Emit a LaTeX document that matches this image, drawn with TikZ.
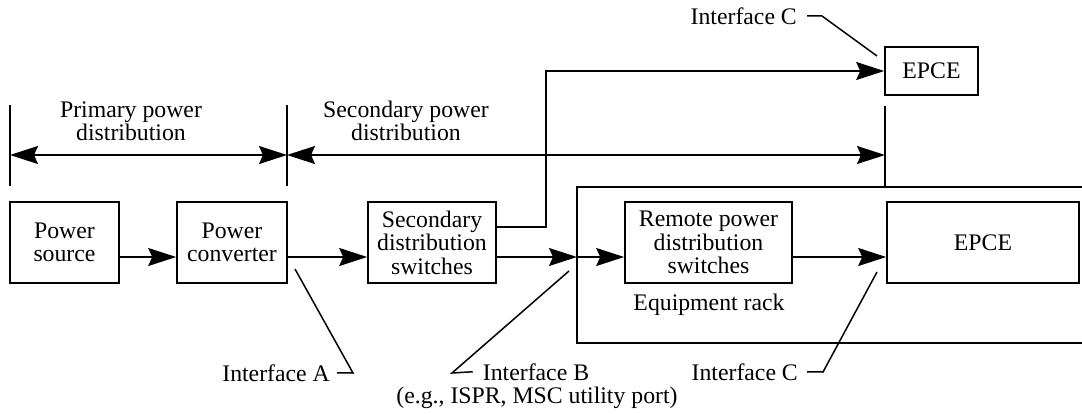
\documentclass[tikz,border=0pt]{standalone}
\usepackage{fontspec}
\setmainfont{Liberation Serif}
\usetikzlibrary{arrows.meta}
\newcommand\diafont{\fontsize{23.75pt}{23.5pt}\selectfont}
\begin{document}
\begin{tikzpicture}[x=1pt,y=-1pt,
  lw/.style={line width=1.6pt},
  box/.style={draw,lw,align=center,inner sep=0pt,font=\diafont},
  lbl/.style={align=center,inner sep=0pt,font=\diafont},
  arr/.style={lw,-{Stealth[length=28pt,width=18pt,inset=4pt]}},
  darr/.style={lw,{Stealth[length=28pt,width=18pt,inset=4pt]}-{Stealth[length=28pt,width=18pt,inset=4pt]}},
  lead/.style={line width=1.5pt}]
\useasboundingbox (0,0) rectangle (1082,413);

% boxes
\node[box,minimum width=109pt,minimum height=81pt] (ps) at (64.5,242.5) {Power\\source};
\node[box,minimum width=110pt,minimum height=81pt] (pc) at (232,242.5) {Power\\converter};
\node[box,minimum width=128pt,minimum height=81pt] (sds) at (432,242.5) {Secondary\\distribution\\switches};
\node[box,minimum width=167pt,minimum height=81pt] (rpds) at (708.5,242.5) {Remote power\\distribution\\switches};
\node[box,minimum width=192pt,minimum height=81pt] (epce) at (983,242.5) {EPCE};
\node[box,minimum width=93pt,minimum height=48pt] (epcet) at (931.5,71) {EPCE};

% equipment rack
\draw[lw] (1090,187) -- (577,187) -- (577,343) -- (1090,343);
\node[lbl,anchor=base] (rack) at (709,310) {Equipment rack};
\coordinate (rk) at (577,257);

% connectors
\draw[arr] ([yshift=-14.5pt]ps.east) -- ([yshift=-14.5pt]pc.west);
\draw[arr] ([yshift=-14.5pt]pc.east) -- ([yshift=-14.5pt]sds.west);
\draw[arr] ([yshift=-14.5pt]sds.east) -- (rk);
\draw[arr] (rk) -- ([yshift=-14.5pt]rpds.west);
\draw[arr] ([yshift=-14.5pt]rpds.east) -- ([yshift=-14.5pt]epce.west);
\draw[arr] ([yshift=15.5pt]sds.east) -- ++(49,0) |- (epcet.west);

% dimension lines
\coordinate (t1a) at (10,105); \coordinate (t1b) at (10,186);
\coordinate (t2a) at (287,105); \coordinate (t2b) at (287,186);
\coordinate (t3a) at (885,106); \coordinate (t3b) at (885,187);
\draw[lw] (t1a) -- (t1b);
\draw[lw] (t2a) -- (t2b);
\draw[lw] (t3a) -- (t3b);
\coordinate (d1) at (10,155); \coordinate (d2) at (287,155); \coordinate (d3) at (885,155);
\draw[darr] (d1) -- (d2);
\draw[darr] (d2) -- (d3);
\node[lbl] (prim) at (131,121) {Primary power\\distribution};
\node[lbl] (sec) at (406,121) {Secondary power\\distribution};

% interface labels
\node[lbl,anchor=base east] (iA) at (330,381) {Interface A};
\node[lbl,anchor=base] (iB) at (536,380) {Interface B};
\node[lbl,anchor=base] (iBx) at (537,403) {(e.g., ISPR, MSC utility port)};
\node[lbl,anchor=base east] (iC) at (798,380) {Interface C};
\node[lbl,anchor=base east] (iCt) at (797,24) {Interface C};

\coordinate (kA) at (353,373); \coordinate (eA) at (295,269);
\coordinate (kB) at (452,373); \coordinate (eB) at (569,271);
\coordinate (kC) at (823,372); \coordinate (eC) at (877,272);
\coordinate (kCt) at (822,16); \coordinate (eCt) at (877,56);
\draw[lead] ([xshift=7pt]iA.east) -- (kA) -- (eA);
\draw[lead] ([xshift=-10pt]iB.west) -- (kB) -- (eB);
\draw[lead] ([xshift=9pt]iC.east) -- (kC) -- (eC);
\draw[lead] ([xshift=10pt]iCt.east) -- (kCt) -- (eCt);
\end{tikzpicture}
\end{document}
